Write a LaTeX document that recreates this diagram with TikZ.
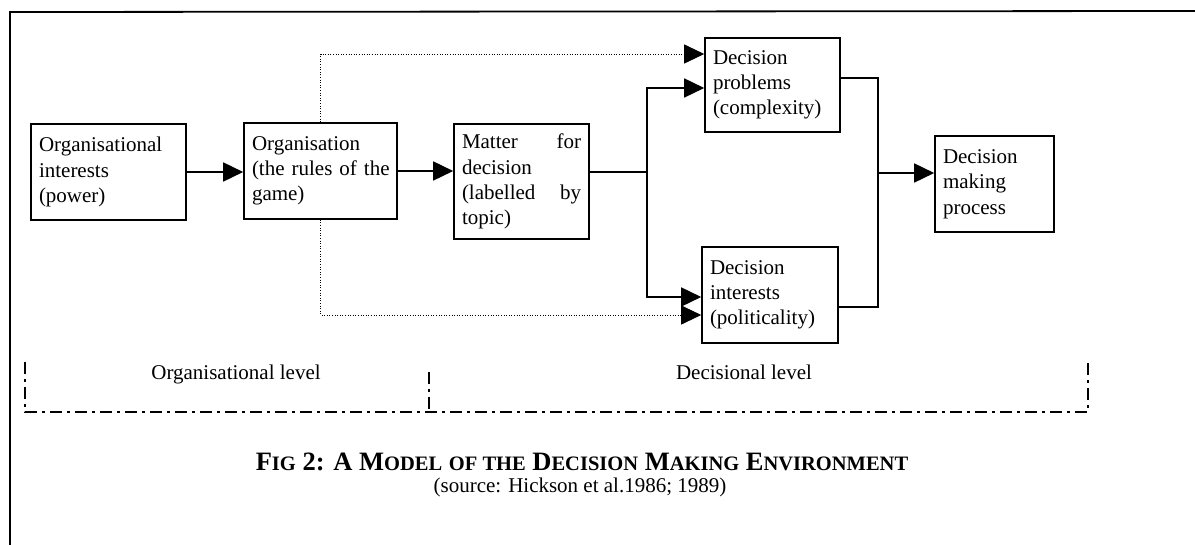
\documentclass[tikz,border=0pt]{standalone}
\usepackage{fontspec}
\setmainfont{Liberation Serif}
\usetikzlibrary{arrows.meta}
% reduced-size capitals for the caption's small caps
\newcommand\capsmall[1]{{\fontsize{20.5}{22}\selectfont #1}}
\begin{document}
\begin{tikzpicture}[x=1pt,y=-1pt,
  box/.style={draw, line width=1.6pt, rectangle, inner xsep=8pt, inner ysep=0pt,
    align=left, font=\fontsize{21}{25.3}\selectfont},
  flow/.style={line width=1.6pt},
  arr/.style={flow, -{Triangle[length=20pt,width=19pt]}},
  dotline/.style={line width=0.9pt, dash pattern=on 1pt off 1.6pt},
  dotarr/.style={dotline, -{Triangle[length=20pt,width=19pt]}},
  level/.style={line width=1.3pt, dash pattern=on 12pt off 5pt on 3pt off 5pt},
  lbl/.style={inner sep=0pt, font=\fontsize{21}{25}\selectfont}]

\useasboundingbox (0,0) rectangle (1195,545);

% outer frame (left and top edges)
\draw[line width=1.8pt] (10,545) -- (10,12) -- (1195,11);

% boxes
\node[box, minimum width=155pt, minimum height=96pt, text width=139pt] (oi) at (108.5,172)
  {Organisational\\interests\\(power)};
\node[box, minimum width=153pt, minimum height=96pt, text width=137pt] (org) at (320.5,171)
  {Organisation\\\mbox{(the rules of the}\\game)};
\node[box, minimum width=135pt, minimum height=115pt, text width=119pt] (mat) at (521.5,181.5)
  {\rule{0pt}{9pt}Matter \hfill for\\decision\\(labelled \hfill by\\topic)};
\node[box, minimum width=135pt, minimum height=94pt, text width=119pt] (prob) at (772.5,85)
  {\rule{0pt}{6pt}Decision\\problems\\(complexity)};
\node[box, minimum width=136pt, minimum height=96pt, text width=120pt] (intr) at (770,295)
  {\rule{0pt}{6pt}Decision\\interests\\(politicality)};
\node[box, minimum width=119pt, minimum height=96pt, text width=103pt] (dmp) at (994.5,184)
  {Decision\\making\\process};

% junction points
\coordinate (split) at (647,172);
\coordinate (merge) at (878,173);

% solid flow
\draw[arr] (oi.east) -- (oi.east -| org.west);
\draw[arr] (org.east) -- (org.east -| mat.west);
\draw[flow] (mat.east |- split) -- (split);
\draw[arr] (split) |- ([yshift=-3pt]prob.west);
\draw[arr] (split) |- ([yshift=-2pt]intr.west);
\draw[flow] ([yshift=7pt]prob.east) -| (merge);
\draw[flow] ([yshift=-12pt]intr.east) -| (merge);
\draw[arr] (merge) -- (merge -| dmp.west);

% dotted influence of the organisation
\draw[dotarr] (org.north) |- ([yshift=31pt]prob.west);
\draw[dotarr] (org.south) |- ([yshift=-20pt]intr.west);

% level brackets
\draw[level] (25,362) -- (25,412) -- (1088,412) -- (1088,362);
\draw[level] (429,372) -- (429,412);
\node[lbl, anchor=base] (orglvl) at (236,380) {Organisational level};
\node[lbl, anchor=base] (declvl) at (744,380) {Decisional level};

% caption
\node[inner sep=0pt, anchor=base, font=\bfseries\fontsize{26.5}{28}\selectfont] (cap) at (582,471)
  {F\capsmall{IG} 2: A M\capsmall{ODEL} \capsmall{OF THE} D\capsmall{ECISION} M\capsmall{AKING} E\capsmall{NVIRONMENT}};
\node[lbl, anchor=base] (src) at (580,493) {(source: Hickson et al.1986; 1989)};
\end{tikzpicture}
\end{document}
